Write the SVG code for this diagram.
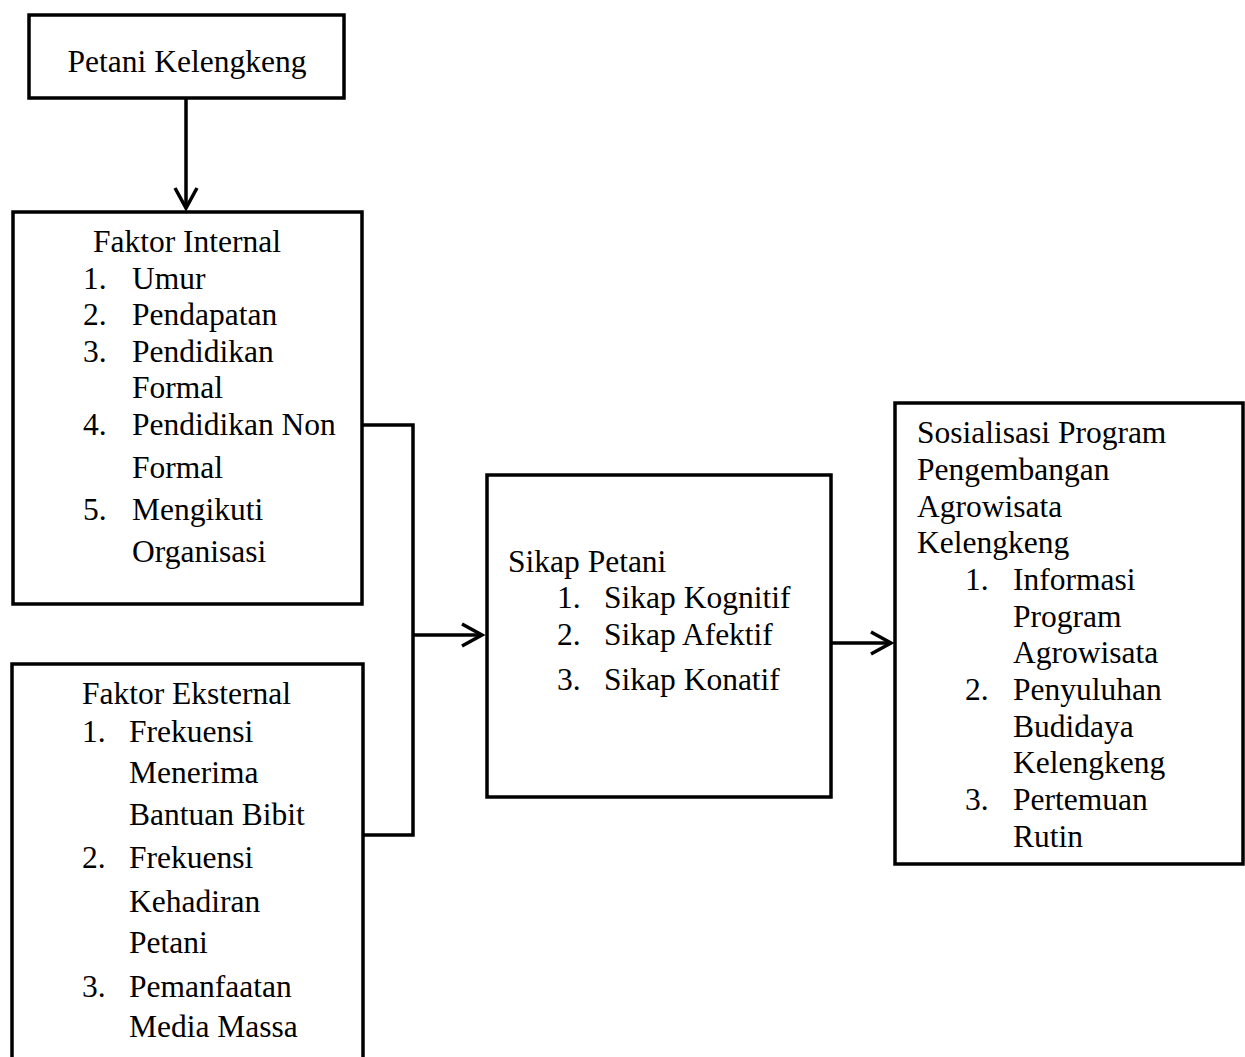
<svg xmlns="http://www.w3.org/2000/svg" width="1245" height="1057" viewBox="0 0 1245 1057">
<defs>
<style>
.box{fill:#fff;stroke:#000;stroke-width:3.5}
.t{font-family:"Liberation Serif","Times New Roman",serif;font-size:31.5px;fill:#000}
.c{fill:none;stroke:#000;stroke-width:3.5}
</style>
<marker id="arr" markerUnits="userSpaceOnUse" markerWidth="30" markerHeight="30" viewBox="-22 -15 30 30" refX="0" refY="0" orient="auto">
<path d="M-20,-11 L0,0 L-20,11" fill="none" stroke="#000" stroke-width="3.5"/>
</marker>
</defs>
<rect width="1245" height="1057" fill="#fff"/>
<g id="connectors">
<line class="c" x1="186" y1="99" x2="186" y2="208" marker-end="url(#arr)"/>
<polyline class="c" points="362,425 413,425 413,835 363,835"/>
<line class="c" x1="413" y1="635" x2="482" y2="635" marker-end="url(#arr)"/>
<line class="c" x1="832" y1="643" x2="891" y2="643" marker-end="url(#arr)"/>
</g>
<g id="petani-kelengkeng">
<rect class="box" x="29" y="15" width="315" height="83" stroke-width="4.5"/>
<text class="t" x="187" y="72" text-anchor="middle">Petani Kelengkeng</text>
</g>
<g id="faktor-internal">
<rect class="box" x="13" y="212" width="349" height="392"/>
<text class="t" x="93" y="252">Faktor Internal</text>
<text class="t" x="83" y="289">1.</text><text class="t" x="132" y="289">Umur</text>
<text class="t" x="83" y="325">2.</text><text class="t" x="132" y="325">Pendapatan</text>
<text class="t" x="83" y="362">3.</text><text class="t" x="132" y="362">Pendidikan</text>
<text class="t" x="132" y="398">Formal</text>
<text class="t" x="83" y="435">4.</text><text class="t" x="132" y="435">Pendidikan Non</text>
<text class="t" x="132" y="478">Formal</text>
<text class="t" x="83" y="520">5.</text><text class="t" x="132" y="520">Mengikuti</text>
<text class="t" x="132" y="562">Organisasi</text>
</g>
<g id="faktor-eksternal">
<rect class="box" x="12" y="664" width="351" height="420"/>
<text class="t" x="82" y="704">Faktor Eksternal</text>
<text class="t" x="82" y="742">1.</text><text class="t" x="129" y="742">Frekuensi</text>
<text class="t" x="129" y="783">Menerima</text>
<text class="t" x="129" y="825">Bantuan Bibit</text>
<text class="t" x="82" y="868">2.</text><text class="t" x="129" y="868">Frekuensi</text>
<text class="t" x="129" y="912">Kehadiran</text>
<text class="t" x="129" y="953">Petani</text>
<text class="t" x="82" y="997">3.</text><text class="t" x="129" y="997">Pemanfaatan</text>
<text class="t" x="129" y="1037">Media Massa</text>
</g>
<g id="sikap-petani">
<rect class="box" x="487" y="475" width="344" height="322"/>
<text class="t" x="508" y="572">Sikap Petani</text>
<text class="t" x="557" y="608">1.</text><text class="t" x="604" y="608">Sikap Kognitif</text>
<text class="t" x="557" y="645">2.</text><text class="t" x="604" y="645">Sikap Afektif</text>
<text class="t" x="557" y="690">3.</text><text class="t" x="604" y="690">Sikap Konatif</text>
</g>
<g id="sosialisasi">
<rect class="box" x="895" y="403" width="348" height="461"/>
<text class="t" x="917" y="443">Sosialisasi Program</text>
<text class="t" x="917" y="480">Pengembangan</text>
<text class="t" x="917" y="517">Agrowisata</text>
<text class="t" x="917" y="553">Kelengkeng</text>
<text class="t" x="965" y="590">1.</text><text class="t" x="1013" y="590">Informasi</text>
<text class="t" x="1013" y="627">Program</text>
<text class="t" x="1013" y="663">Agrowisata</text>
<text class="t" x="965" y="700">2.</text><text class="t" x="1013" y="700">Penyuluhan</text>
<text class="t" x="1013" y="737">Budidaya</text>
<text class="t" x="1013" y="773">Kelengkeng</text>
<text class="t" x="965" y="810">3.</text><text class="t" x="1013" y="810">Pertemuan</text>
<text class="t" x="1013" y="847">Rutin</text>
</g>
</svg>
